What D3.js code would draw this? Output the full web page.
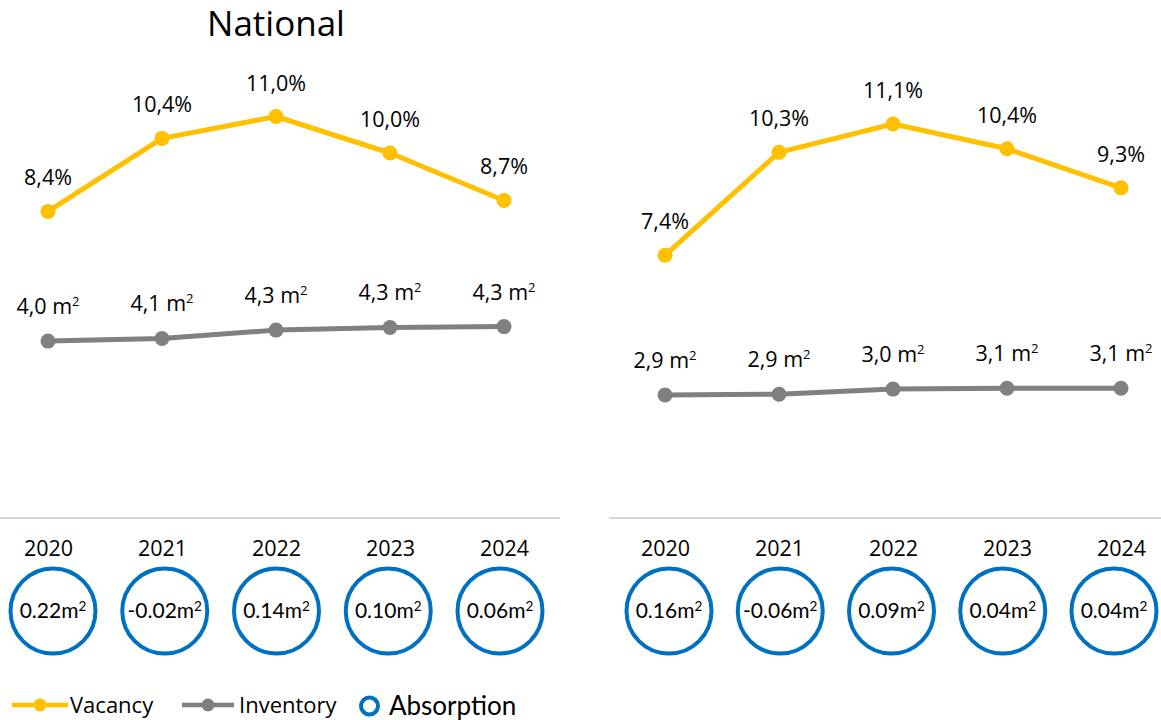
<!DOCTYPE html>
<html><head><meta charset="utf-8">
<script src="https://cdn.jsdelivr.net/npm/d3@7"></script>
<style>body{margin:0;background:#fff} svg{display:block}</style>
</head><body>
<svg id="chart" width="1161" height="720"></svg>
<script>
// ---- data ----
const years = ["2020", "2021", "2022", "2023", "2024"];
const nationalVacancy = [8.4, 10.4, 11.0, 10.0, 8.7];
const nationalInventory = [4.02, 4.08, 4.27, 4.33, 4.35];
const nationalAbsorption = [0.22, -0.02, 0.14, 0.10, 0.06];
const regionVacancy = [7.4, 10.3, 11.1, 10.4, 9.3];
const regionInventory = [2.90, 2.92, 3.04, 3.06, 3.06];
const regionAbsorption = [0.16, -0.06, 0.09, 0.04, 0.04];
const panelTitles = ["National", ""];
const legendLabels = ["Vacancy", "Inventory", "Absorption"];

// ---- styles ----
const C_VAC = "#FFC000", C_INV = "#808080", C_ABS = "#0070C0", C_SEP = "#D9D9D9";
const FONT = "'Open Sans', 'Noto Sans', sans-serif";
const FONT2 = "Lato, 'Open Sans', sans-serif";

const svg = d3.select("#chart");

const panels = [
  { title: panelTitles[0], vac: nationalVacancy, inv: nationalInventory, abs: nationalAbsorption,
    xr: [48, 504], cr: [53, 500], sep: [0, 560], vacTop: 518 - 14 * 36.5, invTop: 518 - 10 * 44 },
  { title: panelTitles[1], vac: regionVacancy, inv: regionInventory, abs: regionAbsorption,
    xr: [665, 1121], cr: [669, 1114], sep: [609, 1161], vacTop: 518 - 14 * 35.5, invTop: 518 - 10 * 42.4 }
];

const fmtVac = v => v.toFixed(1).replace(".", ",") + "%";
const fmtInv = v => v.toFixed(1).replace(".", ",") + " m";
const fmtAbs = v => v.toFixed(2) + "m";

function addSup(sel, size, dy) {
  sel.append("tspan").attr("font-size", size).attr("dy", dy).text("2");
}

panels.forEach(p => {
  const g = svg.append("g");
  const x = d3.scalePoint().domain(years).range(p.xr);
  const xc = d3.scalePoint().domain(years).range(p.cr);
  const yV = d3.scaleLinear().domain([0, 14]).range([518, p.vacTop]);
  const yI = d3.scaleLinear().domain([0, 10]).range([518, p.invTop]);

  if (p.title) {
    g.append("text").attr("x", 276).attr("y", 36)
      .attr("text-anchor", "middle").attr("font-family", FONT).attr("font-size", 35)
      .attr("fill", "#000").text(p.title);
  }

  // separator
  g.append("line").attr("x1", p.sep[0]).attr("x2", p.sep[1]).attr("y1", 518).attr("y2", 518)
    .attr("stroke", C_SEP).attr("stroke-width", 2);

  // year axis
  const ax = g.append("g").attr("transform", "translate(0,518)")
    .call(d3.axisBottom(x).tickSize(0).tickPadding(23));
  ax.select(".domain").remove();
  ax.selectAll("text").attr("font-family", FONT).attr("font-size", 21.5).attr("fill", "#000");

  const series = [
    { vals: p.vac, y: yV, color: C_VAC, fmt: fmtVac, off: 26, sup: false },
    { vals: p.inv, y: yI, color: C_INV, fmt: fmtInv, off: 27, sup: true }
  ];
  series.forEach(s => {
    const pts = years.map((yr, i) => ({ yr, v: s.vals[i] }));
    g.append("path").datum(pts)
      .attr("fill", "none").attr("stroke", s.color).attr("stroke-width", 5)
      .attr("stroke-linejoin", "round")
      .attr("d", d3.line().x(d => x(d.yr)).y(d => s.y(d.v)));
    g.selectAll(null).data(pts).enter().append("circle")
      .attr("cx", d => x(d.yr)).attr("cy", d => s.y(d.v)).attr("r", 7.5)
      .attr("fill", s.color);
    const t = g.selectAll(null).data(pts).enter().append("text")
      .attr("x", d => x(d.yr)).attr("y", d => s.y(d.v) - s.off)
      .attr("text-anchor", "middle").attr("font-family", FONT).attr("font-size", 21.5)
      .attr("fill", "#000").text(d => s.fmt(d.v));
    if (s.sup) t.each(function () { addSup(d3.select(this), 13, -8); });
  });

  // absorption circles
  const ab = years.map((yr, i) => ({ yr, v: p.abs[i] }));
  g.selectAll(null).data(ab).enter().append("circle")
    .attr("cx", d => xc(d.yr)).attr("cy", 611).attr("r", 42.5)
    .attr("fill", "none").attr("stroke", C_ABS).attr("stroke-width", 4);
  const at = g.selectAll(null).data(ab).enter().append("text")
    .attr("x", d => xc(d.yr)).attr("y", 618)
    .attr("text-anchor", "middle").attr("font-family", FONT2).attr("font-size", 21)
    .attr("fill", "#000").text(d => fmtAbs(d.v));
  at.each(function () { addSup(d3.select(this), 13.5, -7); });
});

// ---- legend ----
const lg = svg.append("g");
[[12, 68, 40, C_VAC, 70, legendLabels[0]], [182, 234, 208, C_INV, 239, legendLabels[1]]].forEach(([a, b, c, col, tx, lbl]) => {
  lg.append("line").attr("x1", a).attr("x2", b).attr("y1", 705).attr("y2", 705)
    .attr("stroke", col).attr("stroke-width", 4.5);
  lg.append("circle").attr("cx", c).attr("cy", 705).attr("r", 6.5).attr("fill", col);
  lg.append("text").attr("x", tx).attr("y", 713).attr("font-family", FONT).attr("font-size", 22)
    .attr("fill", "#000").text(lbl);
});
lg.append("circle").attr("cx", 369.5).attr("cy", 706).attr("r", 8.5)
  .attr("fill", "none").attr("stroke", C_ABS).attr("stroke-width", 4);
lg.append("text").attr("x", 389).attr("y", 715).attr("font-family", FONT2).attr("font-size", 26)
  .attr("fill", "#000").text(legendLabels[2]);
</script>
</body></html>
